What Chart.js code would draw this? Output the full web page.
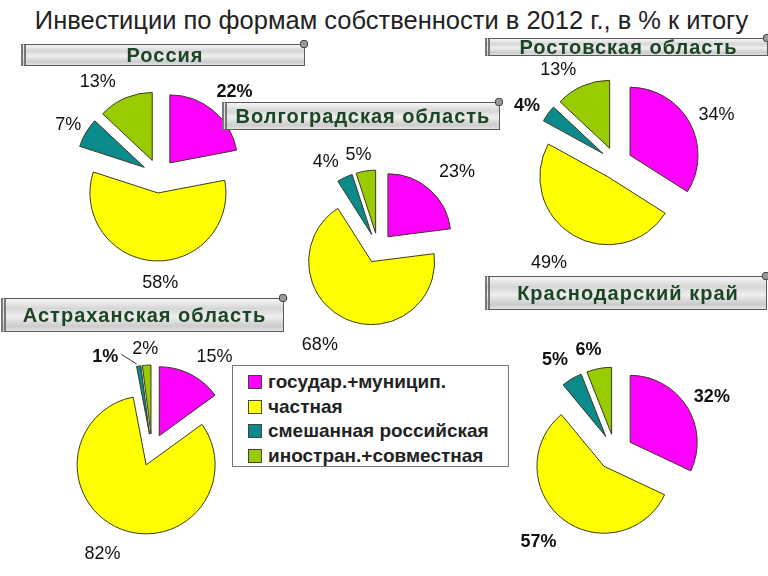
<!DOCTYPE html>
<html>
<head>
<meta charset="utf-8">
<script src="https://cdn.jsdelivr.net/npm/chart.js@4/dist/chart.umd.min.js"></script>
<style>
  html, body { margin: 0; padding: 0; background: #fff; }
  body { width: 768px; height: 576px; position: relative; overflow: hidden; font-family: "Liberation Sans", Arial, sans-serif; }
  h1 { position: absolute; left: 0; top: 6px; width: 783px; margin: 0; text-align: center; font-weight: normal; font-size: 25.5px; color: #222; }
  canvas.pie { position: absolute; z-index: 1; }
  .banner {
    position: absolute; z-index: 2; box-sizing: border-box;
    background: linear-gradient(to bottom, #f6f6f6 0%, #d6d6d6 30%, #eeeeee 55%, #cccccc 85%, #e2e2e2 100%);
    border: 1px solid #5a5a5a; border-left: 5px double #777;
    color: #1c4526; font-weight: bold; font-size: 20px; letter-spacing: 1px;
    text-align: center; white-space: nowrap;
  }
  .banner::after {
    content: ""; position: absolute; right: -4px; top: -5px; width: 6px; height: 6px;
    border-radius: 3px; background: #999; border: 1px solid #444;
  }
  #legend {
    position: absolute; z-index: 3; left: 232px; top: 365px; width: 277px; height: 102px;
    box-sizing: border-box; border: 1px solid #777; background: #fff; padding: 4px 0 0 15px;
  }
  #legend div { height: 24.5px; line-height: 24.5px; font-weight: bold; font-size: 19px; color: #222; white-space: nowrap; }
  #legend span { display: inline-block; width: 12px; height: 12px; border: 1px solid #444; margin-right: 6px; vertical-align: -1px; }
</style>
</head>
<body>
<h1>Инвестиции по формам собственности в 2012 г., в % к итогу</h1>
<div id="legend"></div>

<script>
// categories and values (percent of total)
const categories = ["государ.+муницип.", "частная", "смешанная российская", "иностран.+совместная"];
const regions = ["Россия", "Волгоградская область", "Ростовская область", "Астраханская область", "Краснодарский край"];

const russia    = [22, 58, 7, 13];
const volgograd = [23, 68, 4, 5];
const rostov    = [34, 49, 4, 13];
const astrakhan = [15, 82, 1, 2];
const krasnodar = [32, 57, 5, 6];

const colors = ["#ff00ff", "#ffff00", "#0a8a8a", "#99cc00"];

// layout of each pie + banner (pixels)
const pies = [
  { values: russia,    cx: 159, cy: 176, r: 68, explode: 17, pad: 24, bold: [1, 0, 0, 0],
    nudge: [[6, 0], [8, -2], [3, 5], [-18, 6]],
    banner: { x: 21, y: 44, w: 284, h: 22 } },
  { values: volgograd, cx: 378, cy: 248, r: 63, explode: 15, pad: 28, bold: [0, 0, 0, 0],
    nudge: [[9, 4], [-13, 1], [-7, 10], [-3, 12]],
    banner: { x: 222, y: 102, w: 278, h: 28 } },
  { values: rostov,    cx: 616, cy: 163, r: 68, explode: 16, pad: 26, bold: [0, 0, 1, 0],
    nudge: [[4, 5], [-11, 5], [0, 8], [-14, 8]],
    banner: { x: 485, y: 38, w: 283, h: 18 } },
  { values: astrakhan, cx: 152, cy: 450, r: 69, explode: 16, pad: 22, bold: [0, 0, 1, 0],
    nudge: [[14, 2], [-10, 5], [-30, 13], [0, 6]], leader: [false, false, true, false],
    banner: { x: 1, y: 298, w: 283, h: 34 } },
  { values: krasnodar, cx: 615, cy: 452, r: 67, explode: 18, pad: 25, bold: [1, 1, 1, 1],
    nudge: [[4, 4], [-9, 3], [-4, 3], [-6, 6]],
    banner: { x: 485, y: 276, w: 282, h: 34 } },
];

const legend = document.getElementById("legend");
categories.forEach((c, i) => {
  const row = document.createElement("div");
  row.innerHTML = '<span style="background:' + colors[i] + '"></span>' + c;
  legend.appendChild(row);
});

// slices pulled out from the centre by a fixed distance, then % labels outside
const explodedPie = {
  id: "explodedPie",
  beforeDatasetDraw(chart, args, opts) {
    const ctx = chart.ctx;
    const meta = chart.getDatasetMeta(args.index);
    meta.data.forEach(arc => {
      const mid = (arc.startAngle + arc.endAngle) / 2;
      ctx.save();
      ctx.translate(Math.cos(mid) * opts.explode, Math.sin(mid) * opts.explode);
      arc.draw(ctx);
      ctx.restore();
    });
    return false;
  },
  afterDatasetsDraw(chart, args, opts) {
    const ctx = chart.ctx;
    const meta = chart.getDatasetMeta(0);
    const ds = chart.data.datasets[0];
    ctx.save();
    ctx.fillStyle = "#111";
    ctx.textAlign = "center";
    ctx.textBaseline = "middle";
    meta.data.forEach((arc, i) => {
      const mid = (arc.startAngle + arc.endAngle) / 2;
      const d = arc.outerRadius + opts.explode + opts.pad;
      const n = opts.nudge[i] || [0, 0];
      const lx = arc.x + Math.cos(mid) * d + n[0];
      const ly = arc.y + Math.sin(mid) * d + n[1];
      ctx.font = (opts.bold[i] ? "bold " : "") + "18px 'Liberation Sans', Arial, sans-serif";
      ctx.fillText(ds.data[i] + "%", lx, ly);
      if (opts.leader && opts.leader[i]) {
        const ex = arc.x + Math.cos(mid) * (arc.outerRadius + opts.explode);
        const ey = arc.y + Math.sin(mid) * (arc.outerRadius + opts.explode);
        ctx.strokeStyle = "#333";
        ctx.lineWidth = 1;
        ctx.beginPath();
        ctx.moveTo(lx + 16, ly - 3);
        ctx.lineTo(ex - 2, ey - 2);
        ctx.stroke();
      }
    });
    ctx.restore();
  }
};

const S = 290;
pies.forEach((p, k) => {
  const cv = document.createElement("canvas");
  cv.className = "pie";
  cv.width = S; cv.height = S;
  cv.style.left = (p.cx - S / 2) + "px";
  cv.style.top = (p.cy - S / 2) + "px";
  document.body.appendChild(cv);

  const b = document.createElement("div");
  b.className = "banner";
  b.style.left = p.banner.x + "px";
  b.style.top = p.banner.y + "px";
  b.style.width = p.banner.w + "px";
  b.style.height = p.banner.h + "px";
  b.style.lineHeight = (p.banner.h - 2) + "px";
  b.textContent = regions[k];
  document.body.appendChild(b);

  new Chart(cv.getContext("2d"), {
    type: "pie",
    data: {
      labels: categories,
      datasets: [{
        data: p.values,
        backgroundColor: colors,
        borderColor: "#3a3a20",
        borderWidth: 1,
      }]
    },
    options: {
      responsive: false,
      animation: false,
      devicePixelRatio: 1,
      radius: p.r,
      layout: { padding: 0 },
      plugins: {
        legend: { display: false },
        tooltip: { enabled: false },
        explodedPie: { explode: p.explode, pad: p.pad, nudge: p.nudge, leader: p.leader, bold: p.bold },
      }
    },
    plugins: [explodedPie]
  });
});
</script>
</body>
</html>
